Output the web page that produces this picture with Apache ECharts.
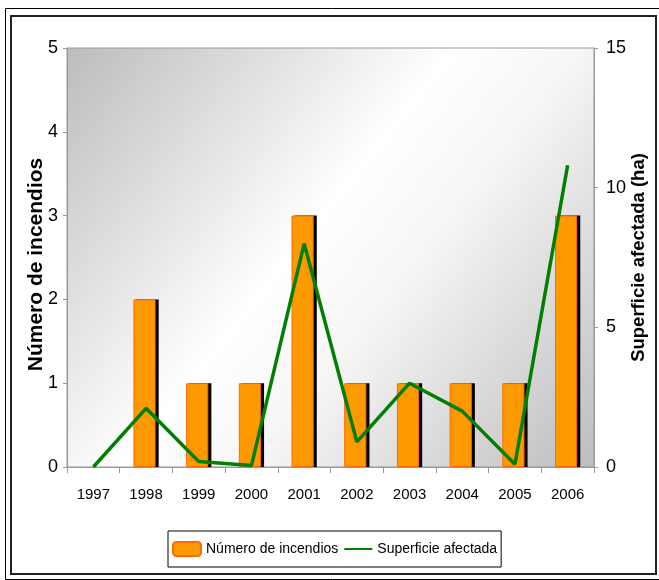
<!DOCTYPE html>
<html>
<head>
<meta charset="utf-8">
<script src="https://cdn.jsdelivr.net/npm/echarts@6/dist/echarts.min.js"></script>
<style>
html,body{margin:0;padding:0;background:#fff;}
#c{width:659px;height:580px;}
</style>
</head>
<body>
<div id="c"></div>
<script>
var years = ['1997','1998','1999','2000','2001','2002','2003','2004','2005','2006'];
var numIncendios = [0, 2, 1, 1, 3, 1, 1, 1, 1, 3];
var superficie = [0, 2.1, 0.2, 0.05, 8, 0.9, 3, 2, 0.1, 10.8];
var leftTicks = {min: 0, max: 5, interval: 1};
var rightTicks = {min: 0, max: 15, interval: 5};

var narrow = "'Liberation Sans Narrow', 'Arial Narrow', 'Liberation Sans', Arial, sans-serif";
var regular = "'Liberation Sans', Arial, sans-serif";

var barData = numIncendios.map(function (v) {
  return v === 0 ? {value: v, itemStyle: {borderWidth: 0, opacity: 0}} : v;
});

var chart = echarts.init(document.getElementById('c'));
chart.setOption({
  animation: false,
  backgroundColor: '#fff',
  graphic: [
    {type: 'rect', shape: {x: 5.5, y: 8.5, width: 660, height: 571}, style: {fill: 'none', stroke: '#000', lineWidth: 1}, z: -10},
    {type: 'rect', shape: {x: 11, y: 16, width: 645, height: 558}, style: {fill: 'none', stroke: '#222', lineWidth: 2}, z: -10}
  ],
  grid: {
    left: 67, right: 65, top: 48, bottom: 113,
    show: true,
    borderColor: '#999',
    borderWidth: 1,
    backgroundColor: {
      type: 'linear', x: 0, y: 0, x2: 1, y2: 1,
      colorStops: [
        {offset: 0, color: '#bcbcbc'},
        {offset: 0.45, color: '#ffffff'},
        {offset: 0.6, color: '#f6f6f6'},
        {offset: 1, color: '#bdbdbd'}
      ]
    }
  },
  legend: {
    left: 168, top: 531,
    data: [
      {name: 'Número de incendios'},
      {name: 'Superficie afectada', itemStyle: {opacity: 0, color: 'rgba(0,0,0,0)', borderWidth: 0}}
    ],
    borderColor: '#000', borderWidth: 1,
    padding: [10, 4, 10, 4],
    itemGap: 5,
    itemWidth: 28, itemHeight: 14,
    textStyle: {fontFamily: narrow, fontSize: 14, color: '#000'}
  },
  xAxis: {
    type: 'category',
    data: years,
    axisLine: {lineStyle: {color: '#999', width: 1}},
    axisTick: {show: true, length: 6, lineStyle: {color: '#999'}},
    axisLabel: {fontFamily: narrow, fontSize: 15, color: '#000', margin: 20},
    splitLine: {show: false}
  },
  yAxis: [
    {
      type: 'value',
      min: leftTicks.min, max: leftTicks.max, interval: leftTicks.interval,
      name: 'Número de incendios',
      nameLocation: 'middle', nameRotate: 90, nameGap: 20, nameMoveOverlap: false,
      nameTextStyle: {fontFamily: regular, fontSize: 21, fontWeight: 'bold', color: '#000', padding: [0, 14, 0, 0]},
      axisLine: {show: true, lineStyle: {color: '#999'}},
      axisTick: {show: true, length: 4, lineStyle: {color: '#999'}},
      axisLabel: {fontFamily: regular, fontSize: 18, color: '#000', margin: 9},
      splitLine: {show: false}
    },
    {
      type: 'value',
      min: rightTicks.min, max: rightTicks.max, interval: rightTicks.interval,
      name: 'Superficie afectada (ha)',
      nameLocation: 'middle', nameRotate: 90, nameGap: 35, nameMoveOverlap: false,
      nameTextStyle: {fontFamily: regular, fontSize: 18.5, fontWeight: 'bold', color: '#000'},
      axisLine: {show: true, lineStyle: {color: '#999'}},
      axisTick: {show: true, length: 4, lineStyle: {color: '#999'}},
      axisLabel: {fontFamily: regular, fontSize: 18, color: '#000', margin: 12},
      splitLine: {show: false}
    }
  ],
  series: [
    {
      name: 'Número de incendios',
      type: 'bar',
      yAxisIndex: 0,
      data: barData,
      barWidth: '42%',
      barGap: '-86%',
      z: 3,
      itemStyle: {color: '#FF9900', borderColor: '#FF6a00', borderWidth: 1}
    },
    {
      name: 'sombra',
      type: 'bar',
      yAxisIndex: 0,
      data: numIncendios,
      barWidth: '42%',
      z: 2,
      silent: true,
      itemStyle: {color: '#000'}
    },
    {
      name: 'Superficie afectada',
      type: 'line',
      yAxisIndex: 1,
      data: superficie,
      symbol: 'none',
      lineStyle: {color: '#008000', width: 3.5},
      itemStyle: {color: '#008000'},
      z: 5
    }
  ]
});
</script>
</body>
</html>
